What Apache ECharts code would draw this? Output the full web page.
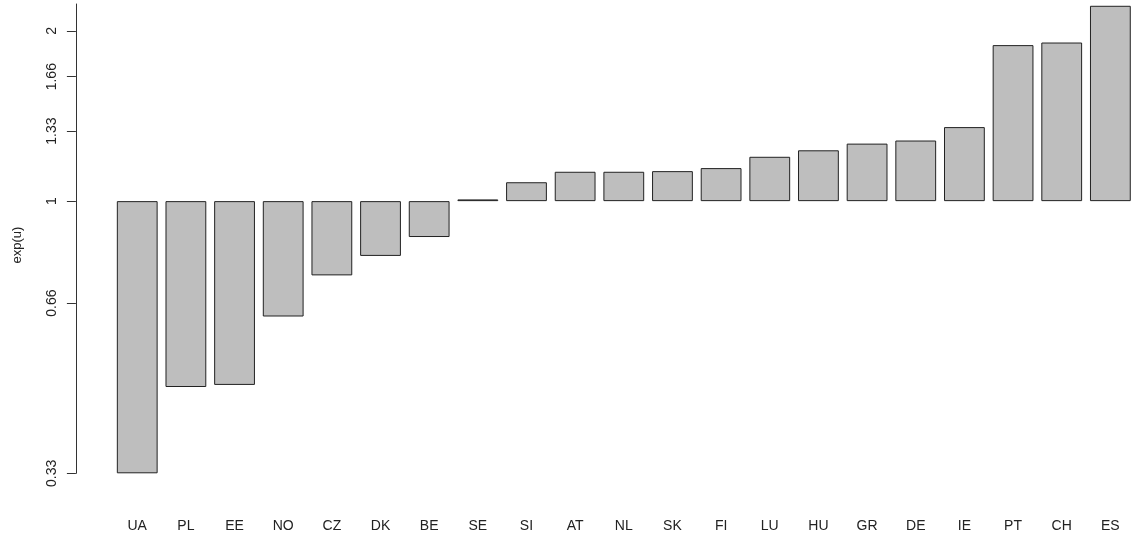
<!DOCTYPE html>
<html>
<head>
<meta charset="utf-8">
<script src="https://cdn.jsdelivr.net/npm/echarts@6/dist/echarts.min.js"></script>
<style>
  html, body { margin: 0; padding: 0; background: #ffffff; }
  #chart { width: 1131px; height: 541px; }
</style>
</head>
<body>
<div id="chart"></div>
<script>
// Country codes, ordered by the size of the effect
const countries = ['UA','PL','EE','NO','CZ','DK','BE','SE','SI','AT','NL','SK','FI','LU','HU','GR','DE','IE','PT','CH','ES'];
// exp(u) per country
const expU = [0.33, 0.469, 0.473, 0.625, 0.739, 0.800, 0.864, 1.007, 1.080, 1.127, 1.127, 1.130, 1.144, 1.198, 1.230, 1.264, 1.280, 1.352, 1.888, 1.908, 2.216];
// y-axis ticks, in exp(u) units, and their printed labels
const tickValues = [0.33, 0.66, 1, 1.33, 1.66, 2];
const tickLabels = ['0.33', '0.66', '1', '1.33', '1.66', '2'];

// bars are drawn on the log scale, growing out of exp(u) = 1
const logU = expU.map(v => Math.log(v));
const logTicks = tickValues.map(v => Math.log(v));

function labelFor(value) {
  let best = 0;
  logTicks.forEach((t, i) => { if (Math.abs(t - value) < Math.abs(logTicks[best] - value)) best = i; });
  return tickLabels[best];
}

const font = '"Liberation Sans", Arial, sans-serif';
const chart = echarts.init(document.getElementById('chart'), null, { renderer: 'canvas' });

chart.setOption({
  animation: false,
  backgroundColor: '#ffffff',
  grid: { left: 112.9, top: 4, width: 1021.8, bottom: 67.7, containLabel: false, outerBoundsMode: 'none' },
  xAxis: {
    type: 'category',
    data: countries,
    boundaryGap: true,
    axisLine: { show: false, onZero: false },
    axisTick: { show: false },
    splitLine: { show: false },
    axisLabel: { margin: 46, color: '#222', fontFamily: font, fontSize: 14, interval: 0 }
  },
  yAxis: {
    type: 'value',
    min: Math.log(0.33),
    max: 0.803,
    offset: 37,
    splitLine: { show: false },
    axisLine: { show: true, onZero: false, lineStyle: { color: '#333', width: 1 } },
    axisTick: { show: true, length: 9, inside: false, customValues: logTicks, lineStyle: { color: '#333', width: 1 } },
    axisLabel: {
      customValues: logTicks,
      rotate: 90,
      margin: 17,
      color: '#222',
      fontFamily: font,
      fontSize: 14,
      formatter: labelFor
    }
  },
  graphic: [{
    type: 'text',
    x: 17,
    y: 245,
    rotation: Math.PI / 2,
    style: {
      text: 'exp(u)',
      fill: '#222',
      font: '13px ' + font,
      align: 'center',
      verticalAlign: 'middle'
    }
  }],
  series: [{
    type: 'bar',
    data: logU,
    barWidth: 40.8,
    itemStyle: { color: '#bebebe', borderColor: '#222', borderWidth: 1 },
    emphasis: { disabled: true }
  }]
});
</script>
</body>
</html>
